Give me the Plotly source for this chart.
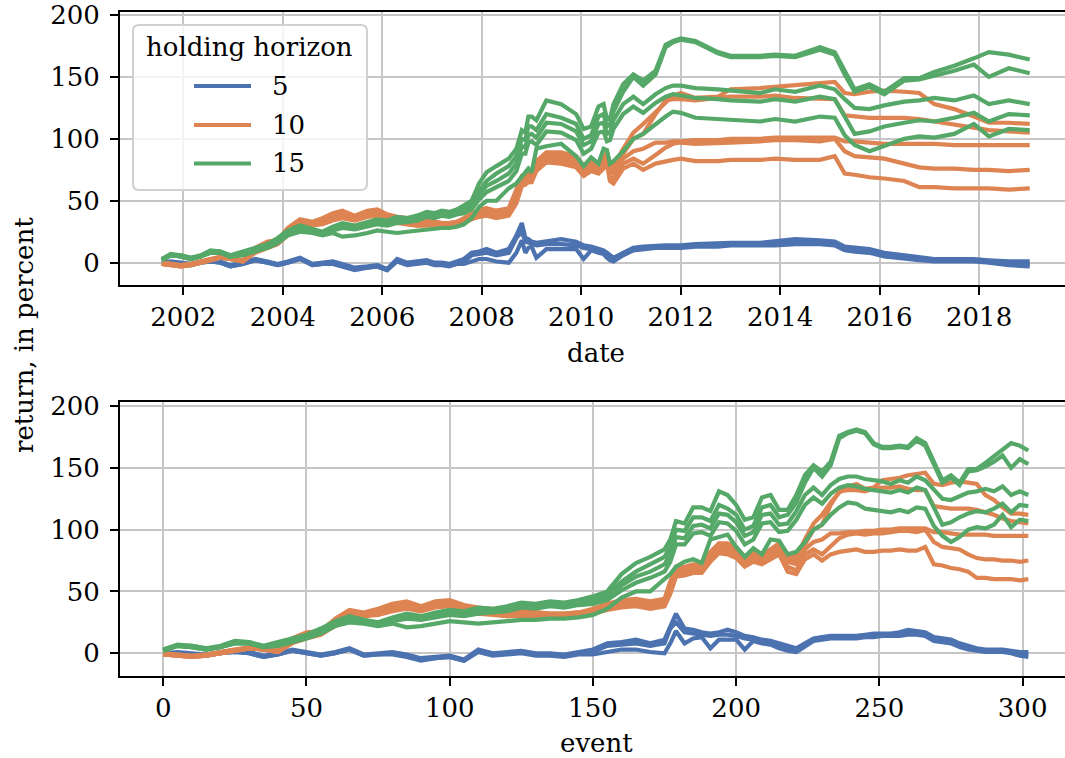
import plotly.graph_objects as go

# sampled event numbers and the calendar date of each sampled event
event_no = [0, 5, 10, 15, 20, 25, 30, 35, 40, 45, 50, 55, 60, 65, 70, 75, 80, 85, 90, 95,
            100, 105, 110, 115, 120, 125, 130, 135, 140, 145, 150,
            155, 160, 165, 170, 175, 177, 179, 182, 185, 188, 191, 194, 197, 200,
            203, 206, 209, 212, 215, 218, 221, 224, 227, 230, 233, 236, 239, 242,
            245, 248, 251, 254, 257, 260, 263, 266, 269, 272, 275, 278, 281, 284,
            287, 290, 293, 296, 299, 302]

event_date = ["2001-07-27", "2001-10-01", "2001-12-13", "2002-02-24", "2002-05-08", "2002-07-20",
              "2002-10-01", "2002-12-13", "2003-03-14", "2003-06-13", "2003-09-12", "2003-11-25",
              "2004-02-06", "2004-05-07", "2004-08-06", "2004-10-19", "2005-01-03", "2005-03-14",
              "2005-06-13", "2005-09-13", "2005-11-25", "2006-02-06", "2006-04-20", "2006-07-03",
              "2006-09-13", "2006-11-24", "2007-01-19", "2007-03-14", "2007-05-08", "2007-07-02",
              "2007-08-24", "2007-10-19", "2007-12-13", "2008-02-06", "2008-04-18", "2008-07-18",
              "2008-09-12", "2008-10-22", "2008-11-17", "2008-12-09", "2009-01-02", "2009-02-06",
              "2009-04-20", "2009-08-07", "2009-11-25", "2010-01-19", "2010-03-15", "2010-05-08",
              "2010-06-14", "2010-07-09", "2010-07-31", "2010-08-26", "2010-11-05", "2011-01-19",
              "2011-04-01", "2011-07-01", "2011-09-13", "2011-11-07", "2012-01-03", "2012-04-19",
              "2012-10-01", "2013-01-02", "2013-08-07", "2013-11-25", "2014-04-21", "2014-10-20",
              "2015-02-06", "2015-04-20", "2015-07-02", "2015-10-19", "2016-02-05", "2016-07-01",
              "2016-10-19", "2017-02-06", "2017-07-03", "2017-11-24", "2018-03-14", "2018-08-07",
              "2019-01-08"]

# cumulative return (percent), holding horizon 5
h5_a = [0, 1, 0, -1, 1, 2, 1, -2, 0, 3, 1, -1, 1, 4, -1, 0, 1, -1, -4, -3, -2, -5, 3, 0, 1, 2, 0, 0, -1, 1, 3,
        8, 9, 11, 8, 11, 22, 32, 20, 19, 17, 16, 17, 19, 17, 14, 13, 11, 10, 8, 6, 4, 8, 12, 13, 14, 14, 14, 14,
        15, 16, 16, 16, 17, 19, 18, 17, 13, 12, 11, 8, 6, 4, 3, 3, 3, 2, 1, 1]
h5_b = [0, 0, -1, -2, 0, 1, 0, -3, -1, 2, 0, -2, 0, 3, -2, -1, 0, -2, -5, -4, -3, -6, 2, -1, 0, 1, -1, -1, -2, 0, 1,
        6, 7, 8, 6, 8, 20, 25, 17, 16, 15, 14, 15, 15, 14, 12, 11, 9, 8, 6, 4, 2, 7, 11, 12, 13, 13, 13, 13,
        14, 14, 15, 15, 15, 16, 16, 15, 11, 10, 9, 6, 4, 3, 2, 2, 2, 1, 0, -1]
h5_c = [0, -1, -1, -2, 0, 1, 0, -3, -1, 2, 0, -2, 0, 3, -2, -1, -1, -3, -6, -4, -3, -6, 1, -2, -1, 0, -2, -2, -3, -1, -1,
        1, 3, 3, 1, 0, 8, 18, 8, 12, 13, 4, 11, 11, 11, 3, 10, 8, 7, 4, 2, 1, 6, 10, 11, 12, 12, 12, 12,
        13, 13, 14, 14, 14, 15, 15, 14, 10, 9, 8, 5, 3, 2, 1, 1, 1, 0, -2, -3]

# cumulative return (percent), holding horizon 10
h10_a = [0, -1, -2, -1, 1, 3, 5, 4, 2, 12, 17, 18, 28, 35, 33, 36, 40, 42, 38, 42, 43, 39, 37, 36, 32, 34, 33, 32, 32, 33, 36,
         40, 43, 44, 42, 44, 58, 70, 70, 72, 72, 82, 89, 89, 86, 78, 82, 80, 84, 89, 80, 78, 92, 105, 112, 122, 130, 135, 137,
         133, 134, 140, 141, 142, 144, 145, 146, 137, 136, 138, 139, 138, 137, 128, 124, 118, 113, 113, 112]
h10_b = [0, -1, -2, -1, 1, 3, 4, 4, 2, 11, 16, 18, 27, 34, 32, 35, 39, 41, 37, 41, 42, 38, 36, 35, 32, 33, 33, 32, 32, 33, 35,
         38, 41, 42, 40, 42, 55, 67, 68, 70, 70, 80, 87, 87, 84, 76, 80, 78, 82, 86, 77, 75, 88, 100, 104, 120, 131, 132, 132,
         131, 133, 134, 134, 135, 133, 132, 132, 119, 118, 117, 117, 117, 116, 114, 112, 109, 107, 106, 105]
h10_c = [-1, -2, -3, -2, 0, 2, 4, 3, 1, 10, 15, 17, 25, 32, 31, 33, 37, 39, 36, 39, 40, 37, 34, 33, 31, 32, 32, 31, 31, 32, 34,
         37, 40, 41, 39, 41, 53, 65, 66, 68, 68, 78, 85, 85, 82, 74, 78, 76, 80, 84, 74, 72, 84, 90, 92, 97, 97, 98, 98,
         99, 99, 100, 100, 101, 101, 101, 101, 98, 98, 97, 96, 96, 96, 96, 95, 95, 95, 95, 95]
h10_d = [-1, -2, -3, -2, 0, 2, 4, 3, 1, 9, 13, 16, 24, 30, 30, 32, 35, 37, 35, 38, 39, 36, 33, 32, 30, 31, 31, 31, 31, 32, 33,
         36, 39, 40, 38, 40, 51, 63, 64, 66, 66, 76, 83, 83, 80, 72, 76, 74, 78, 82, 70, 67, 80, 84, 80, 87, 93, 96, 97,
         96, 97, 97, 98, 99, 99, 98, 100, 90, 86, 85, 84, 80, 77, 76, 76, 75, 75, 74, 75]
h10_e = [-1, -2, -3, -2, 0, 2, 4, 3, 1, 8, 12, 15, 22, 28, 30, 31, 34, 36, 34, 37, 38, 35, 32, 31, 30, 30, 30, 30, 30, 31, 32,
         35, 37, 38, 36, 38, 48, 62, 63, 65, 65, 74, 81, 80, 77, 70, 74, 72, 76, 80, 66, 64, 76, 80, 75, 80, 82, 83, 84,
         82, 82, 83, 83, 84, 83, 83, 86, 72, 71, 69, 68, 66, 61, 61, 60, 60, 60, 59, 60]

# cumulative return (percent), holding horizon 15
h15_a = [3, 7, 6, 4, 6, 10, 9, 6, 9, 12, 15, 20, 26, 30, 27, 25, 29, 32, 30, 33, 35, 34, 37, 36, 38, 41, 40, 42, 41, 43, 46,
         50, 64, 73, 78, 84, 92, 107, 105, 118, 118, 115, 131, 128, 120, 108, 110, 126, 128, 116, 116, 128, 144, 152, 147, 155, 176, 179, 181,
         179, 170, 167, 167, 168, 167, 174, 170, 155, 140, 144, 138, 149, 149, 154, 159, 165, 170, 168, 164]
h15_b = [2, 6, 6, 4, 5, 9, 9, 5, 8, 11, 14, 19, 25, 29, 27, 24, 28, 31, 29, 32, 34, 33, 36, 35, 37, 40, 39, 41, 40, 42, 44,
         48, 58, 66, 72, 78, 86, 100, 99, 110, 110, 107, 120, 117, 112, 100, 103, 118, 120, 110, 112, 122, 138, 150, 143, 152, 174, 178, 180,
         178, 169, 166, 166, 167, 166, 172, 168, 152, 138, 142, 136, 147, 148, 151, 155, 160, 150, 157, 153]
h15_c = [3, 6, 5, 3, 5, 9, 8, 5, 8, 11, 14, 18, 24, 28, 26, 24, 27, 30, 29, 31, 33, 32, 35, 35, 36, 39, 38, 40, 39, 41, 43,
         46, 55, 62, 66, 72, 80, 94, 93, 103, 104, 101, 113, 112, 106, 95, 98, 112, 113, 104, 105, 115, 128, 134, 128, 136, 141, 143, 143,
         141, 140, 139, 137, 140, 138, 143, 140, 132, 125, 124, 127, 130, 131, 133, 131, 135, 128, 131, 128]
h15_d = [2, 6, 5, 3, 5, 8, 8, 5, 7, 10, 13, 17, 23, 27, 25, 23, 26, 28, 27, 29, 31, 30, 32, 33, 34, 37, 36, 38, 37, 39, 40,
         43, 51, 57, 61, 66, 74, 88, 88, 97, 98, 95, 106, 105, 99, 88, 92, 105, 106, 98, 99, 108, 120, 126, 121, 129, 134, 136, 135,
         133, 132, 131, 130, 132, 130, 134, 132, 118, 104, 106, 110, 113, 115, 114, 117, 121, 114, 120, 119]
h15_e = [2, 6, 5, 3, 5, 8, 8, 5, 6, 9, 12, 16, 22, 25, 24, 22, 24, 21, 22, 24, 26, 25, 24, 25, 26, 27, 27, 28, 28, 29, 31,
         36, 45, 50, 50, 60, 64, 70, 74, 76, 73, 92, 94, 96, 86, 78, 85, 80, 92, 91, 80, 82, 90, 100, 104, 112, 118, 122, 121,
         117, 116, 115, 114, 116, 114, 118, 117, 103, 95, 90, 94, 100, 102, 101, 104, 112, 102, 108, 107]

horizon_labels = ["5", "10", "15"]
horizon_colors = ["#4c72b0", "#dd8452", "#55a868"]
horizon_series = [[h5_a, h5_b, h5_c],
                  [h10_a, h10_b, h10_c, h10_d, h10_e],
                  [h15_a, h15_b, h15_c, h15_d, h15_e]]

# ---- canvas geometry (pixels) ----
W, H = 1065, 758
ML, MR, MT, MB = 120, 0, 12, 82
PW, PH = W - ML - MR, H - MT - MB
FONT = "DejaVu Serif"
FS = 26
LW = 4.2


def fx(px):
    return (px - ML) / PW


def fy(py):
    return (H - MB - py) / PH


fig = go.Figure()

for label, color, group in zip(horizon_labels, horizon_colors, horizon_series):
    for values in group:
        fig.add_trace(go.Scatter(x=event_date, y=values, mode="lines", xaxis="x", yaxis="y",
                                 line=dict(color=color, width=LW),
                                 showlegend=False, hoverinfo="skip"))
        fig.add_trace(go.Scatter(x=event_no, y=values, mode="lines", xaxis="x2", yaxis="y2",
                                 line=dict(color=color, width=LW),
                                 showlegend=False, hoverinfo="skip"))

axis_common = dict(showline=True, linecolor="black", linewidth=2, ticks="outside", ticklen=8,
                   tickwidth=2, tickcolor="black", showgrid=True, gridcolor="#c6c6c6",
                   gridwidth=1.8, zeroline=False,
                   tickfont=dict(family=FONT, size=FS, color="black"))

top_y0 = fy(285)
bot_y1 = fy(401.7)

fig.update_layout(
    width=W, height=H,
    margin=dict(l=ML, r=MR, t=MT, b=MB),
    paper_bgcolor="white", plot_bgcolor="white",
    showlegend=False,
    xaxis=dict(domain=[0, 1], anchor="y", type="date",
               range=["2000-09-23", "2019-09-24"], ticklabelstandoff=0,
               tick0="2002-01-01", dtick="M24", tickformat="%Y", mirror=True, **axis_common),
    yaxis=dict(domain=[top_y0, 1], anchor="x", range=[-18.0, 202.4], ticklabelstandoff=5,
               tickvals=[0, 50, 100, 150, 200], mirror=False, **axis_common),
    xaxis2=dict(domain=[0, 1], anchor="y2", range=[-15.1, 314.8], ticklabelstandoff=0,
                tickvals=[0, 50, 100, 150, 200, 250, 300], mirror=True, **axis_common),
    yaxis2=dict(domain=[0, bot_y1], anchor="x2", range=[-18.4, 203.5], ticklabelstandoff=5,
                tickvals=[0, 50, 100, 150, 200], mirror=False, **axis_common),
)

text_font = dict(family=FONT, size=FS, color="black")
annotations = [
    dict(text="date", x=fx(596), y=fy(353), xref="paper", yref="paper",
         xanchor="center", yanchor="middle", showarrow=False, font=text_font),
    dict(text="event", x=fx(596), y=fy(743), xref="paper", yref="paper",
         xanchor="center", yanchor="middle", showarrow=False, font=text_font),
    dict(text="return, in percent", x=fx(24), y=fy(335), xref="paper", yref="paper",
         xanchor="center", yanchor="middle", textangle=-90, showarrow=False, font=text_font),
]

# legend box drawn with shapes and text
lx0, lx1, ly0, ly1, r = 133, 367, 25, 190, 6
X0, X1 = fx(lx0), fx(lx1)
Y0, Y1 = fy(ly0), fy(ly1)
rx, ry = r / PW, r / PH
box_path = (f"M {X0 + rx} {Y0} L {X1 - rx} {Y0} Q {X1} {Y0} {X1} {Y0 - ry} "
            f"L {X1} {Y1 + ry} Q {X1} {Y1} {X1 - rx} {Y1} "
            f"L {X0 + rx} {Y1} Q {X0} {Y1} {X0} {Y1 + ry} "
            f"L {X0} {Y0 - ry} Q {X0} {Y0} {X0 + rx} {Y0} Z")
shapes = [dict(type="path", path=box_path, xref="paper", yref="paper", layer="above",
               fillcolor="rgba(255,255,255,0.8)", line=dict(color="#d0d0d0", width=2))]

annotations.append(dict(text="holding horizon", x=fx(144), y=fy(47), xref="paper", yref="paper",
                        xanchor="left", yanchor="middle", showarrow=False, font=text_font))
for i, (label, color) in enumerate(zip(horizon_labels, horizon_colors)):
    yy = [86, 125, 163.5][i]
    shapes.append(dict(type="line", xref="paper", yref="paper", layer="above",
                       x0=fx(194), x1=fx(251), y0=fy(yy), y1=fy(yy),
                       line=dict(color=color, width=LW)))
    annotations.append(dict(text=label, x=fx(270), y=fy(yy), xref="paper", yref="paper",
                            xanchor="left", yanchor="middle", showarrow=False, font=text_font))

fig.update_layout(shapes=shapes, annotations=annotations)

fig.write_html("out.html")
